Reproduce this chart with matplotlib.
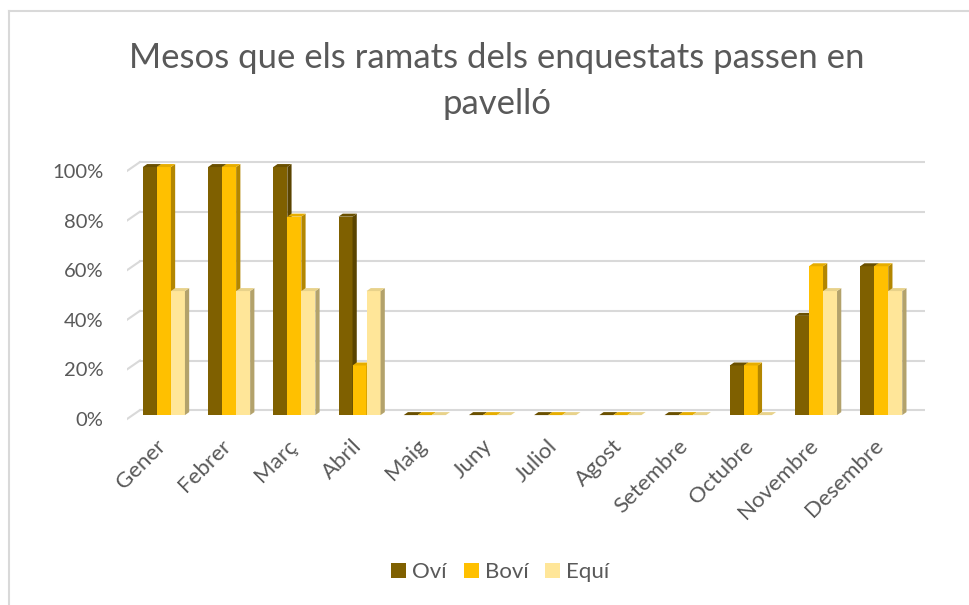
import matplotlib
matplotlib.use('Agg')
import matplotlib.pyplot as plt
import matplotlib.transforms as mtransforms
from matplotlib.patches import Polygon, Patch
from matplotlib.lines import Line2D
import numpy as np

# dades
mesos = ['Gener', 'Febrer', 'Març', 'Abril', 'Maig', 'Juny', 'Juliol',
         'Agost', 'Setembre', 'Octubre', 'Novembre', 'Desembre']
ovi = [1.0, 1.0, 1.0, 0.8, 0, 0, 0, 0, 0, 0.2, 0.4, 0.6]
bovi = [1.0, 1.0, 0.8, 0.2, 0, 0, 0, 0, 0, 0.2, 0.6, 0.6]
equi = [0.5, 0.5, 0.5, 0.5, 0, 0, 0, 0, 0, 0, 0.5, 0.5]
series = ['Oví', 'Boví', 'Equí']
ticks_y = [0, 0.2, 0.4, 0.6, 0.8, 1.0]

# colors: cara frontal, lateral, superior
colors = {
    'Oví': ('#7f6000', '#5a4400', '#6a5000'),
    'Boví': ('#ffc000', '#b38600', '#e6ad00'),
    'Equí': ('#ffe699', '#b3a26b', '#e8d28a'),
}
text_color = '#595959'
grid_color = '#d9d9d9'

plt.rcParams['font.family'] = ['Lato', 'DejaVu Sans']

fig = plt.figure(figsize=(9.69, 6.05), dpi=100)
ax = fig.add_axes([0.131, 0.2975, 0.8235, 0.4545])
ax.set_xlim(-0.567, 11.67)
ax.set_ylim(-0.04, 1.0685)

dx = 0.065   # profunditat 3D en x
dy = 0.012   # profunditat 3D en y
w = 0.215
x = np.arange(len(mesos))

# línies de la quadrícula (paret del fons)
for v in ticks_y:
    yb = v + 0.02
    ax.plot([-0.368, 11.67], [yb, yb], color=grid_color, lw=1.5, zorder=0)
    ax.plot([-0.567, -0.368], [yb - 0.036, yb], color=grid_color, lw=1.5, zorder=0)

z = 2
for i in range(len(mesos)):
    for j, (name, vals) in enumerate(zip(series, [ovi, bovi, equi])):
        front, side, top = colors[name]
        x0 = x[i] - 1.5 * w + j * w
        h = vals[i]
        ax.bar(x0, h, width=w, align='edge', color=front, zorder=z)
        ax.add_patch(Polygon([(x0 + w, 0), (x0 + w + dx, dy), (x0 + w + dx, h + dy), (x0 + w, h)],
                             closed=True, fc=side, ec='none', zorder=z))
        ax.add_patch(Polygon([(x0, h), (x0 + dx, h + dy), (x0 + w + dx, h + dy), (x0 + w, h)],
                             closed=True, fc=top, ec='none', zorder=z))
        z += 1

for s in ax.spines.values():
    s.set_visible(False)

ax.set_yticks([v - 0.016 for v in ticks_y])
ax.set_yticklabels([f'{int(v * 100)}%' for v in ticks_y], fontsize=14.5, color=text_color)
ax.set_xticks(x)
ax.set_xticklabels(mesos, rotation=45, ha='right', va='top', rotation_mode='anchor',
                   fontsize=16, color=text_color)
ax.tick_params(axis='y', length=0, pad=17)
ax.tick_params(axis='x', length=0, pad=7)
shift = mtransforms.ScaledTranslation(-8 / 100, -1 / 100, fig.dpi_scale_trans)
for lbl in ax.get_xticklabels():
    lbl.set_transform(lbl.get_transform() + shift)

fig.text(0.513, 0.866, 'Mesos que els ramats dels enquestats passen en\npavelló',
         ha='center', va='center', fontsize=25, color=text_color, linespacing=1.55)

handles = [Patch(facecolor=colors[n][0], label=n) for n in series]
leg = fig.legend(handles=handles, loc='center', bbox_to_anchor=(0.5165, 1 - 572 / 605), ncol=3,
                 frameon=False, fontsize=16, handlelength=0.67, handleheight=0.67,
                 handletextpad=0.27, columnspacing=0.76)
for t in leg.get_texts():
    t.set_color(text_color)

# vora del gràfic
fig.add_artist(Line2D([0.0093, 1], [0.982, 0.982], color=grid_color, lw=1.5))
fig.add_artist(Line2D([0.0093, 0.0093], [0, 0.982], color=grid_color, lw=1.5))

fig.savefig('out.png', dpi=100)
